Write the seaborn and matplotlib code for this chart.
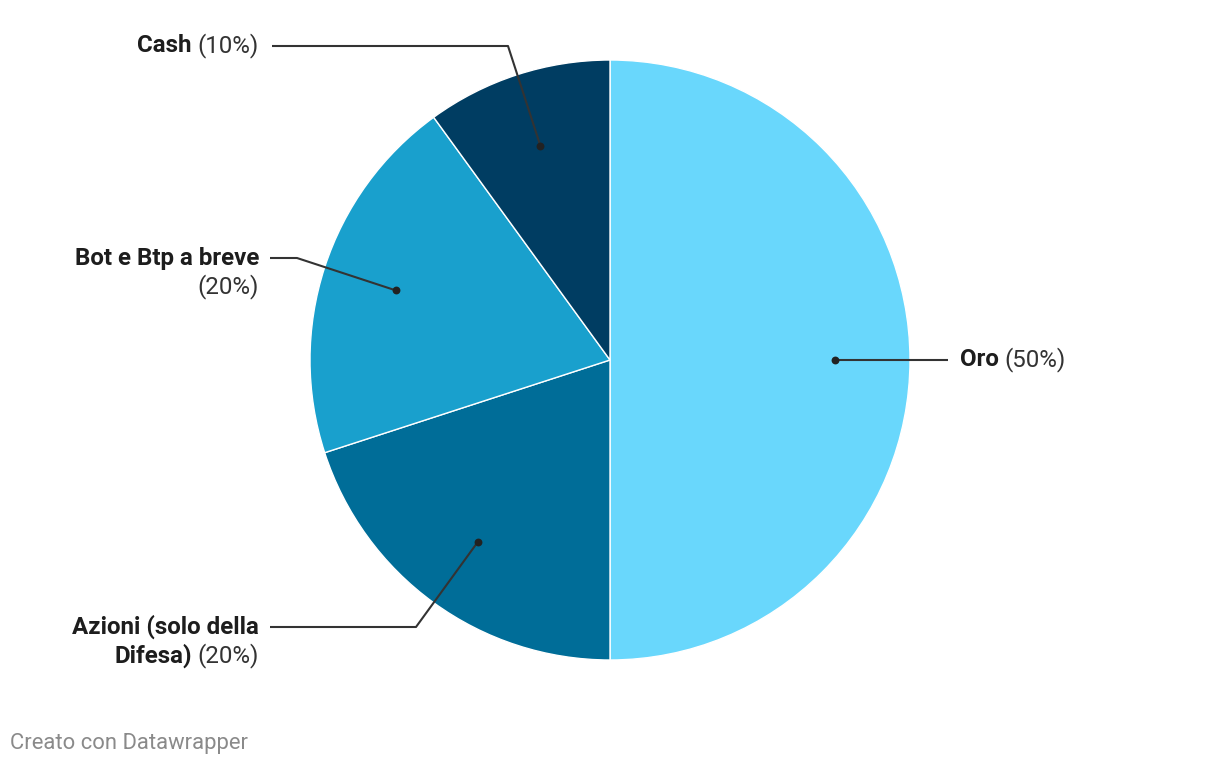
import numpy as np
import matplotlib
matplotlib.use("Agg")
import matplotlib.pyplot as plt
import seaborn as sns

# ---- data ----
names = ["Oro", "Azioni (solo della\nDifesa)", "Bot e Btp a breve", "Cash"]
values = [50, 20, 20, 10]
colors = ["#69d7fc", "#006d98", "#19a0cd", "#003d62"]

sns.set_theme(style="white")
plt.rcParams["font.family"] = ["Roboto", "DejaVu Sans"]

W, H = 1220, 766
fig = plt.figure(figsize=(W / 100, H / 100), dpi=100)
ax = fig.add_axes([0, 0, 1, 1])

def P(x, y):
    return x, H - y

cx, cy = P(610, 360)
R = 300
ax.pie(values, colors=colors, startangle=90, counterclock=False, radius=R,
       center=(cx, cy), wedgeprops=dict(edgecolor="white", linewidth=1.0))
ax.set_xlim(0, W)
ax.set_ylim(0, H)
ax.set_aspect("equal")
ax.axis("off")

total = sum(values)
cum = np.cumsum([0] + values)
mids = [(cum[i] + values[i] / 2) / total * 360 for i in range(len(values))]
dots = []
for m in mids:
    a = np.deg2rad(m)
    dots.append((cx + 0.75 * R * np.sin(a), cy + 0.75 * R * np.cos(a)))

line_c = "#333333"
lw = 1.5
routes = {
    0: [P(948, 360)],
    1: [P(416, 627), P(270, 627)],
    2: [P(297, 258), P(270, 258)],
    3: [P(508, 46), P(272, 46)],
}
for i, pts in routes.items():
    xs = [dots[i][0]] + [p[0] for p in pts]
    ys = [dots[i][1]] + [p[1] for p in pts]
    ax.plot(xs, ys, color=line_c, lw=lw, solid_capstyle="butt", zorder=3)
    ax.scatter([dots[i][0]], [dots[i][1]], s=32, color="#222222", zorder=4, linewidths=0)

fs = 17.4
bold_c = "#1d1d1d"
reg_c = "#333333"
gap = 6
renderer = fig.canvas.get_renderer()

def width_px(t):
    return t.get_window_extent(renderer).width

pcts = [f"({v}%)" for v in values]

x0, y0 = P(960, 360)
t = ax.text(x0, y0, names[0], fontsize=fs, fontweight="bold", color=bold_c, ha="left", va="center")
w = width_px(t)
ax.text(x0 + w + gap, y0, pcts[0], fontsize=fs, color=reg_c, ha="left", va="center")

def right_line(xr, y, bold, reg):
    if reg:
        t2 = ax.text(xr, y, reg, fontsize=fs, color=reg_c, ha="right", va="center")
        w2 = width_px(t2)
        if bold:
            ax.text(xr - w2 - gap, y, bold, fontsize=fs, fontweight="bold", color=bold_c, ha="right", va="center")
    else:
        ax.text(xr, y, bold, fontsize=fs, fontweight="bold", color=bold_c, ha="right", va="center")

xr = 259
right_line(xr, P(0, 46)[1], names[3], pcts[3])
right_line(xr, P(0, 258)[1], names[2], None)
right_line(xr, P(0, 287)[1], None, pcts[2])
l1, l2 = names[1].split("\n")
right_line(xr, P(0, 627)[1], l1, None)
right_line(xr, P(0, 656)[1], l2, pcts[1])

ax.text(10, P(0, 743)[1], "Creato con Datawrapper", fontsize=15.8, color="#8a8a8a",
        ha="left", va="center")

fig.savefig("out.png", dpi=100, facecolor="white")
